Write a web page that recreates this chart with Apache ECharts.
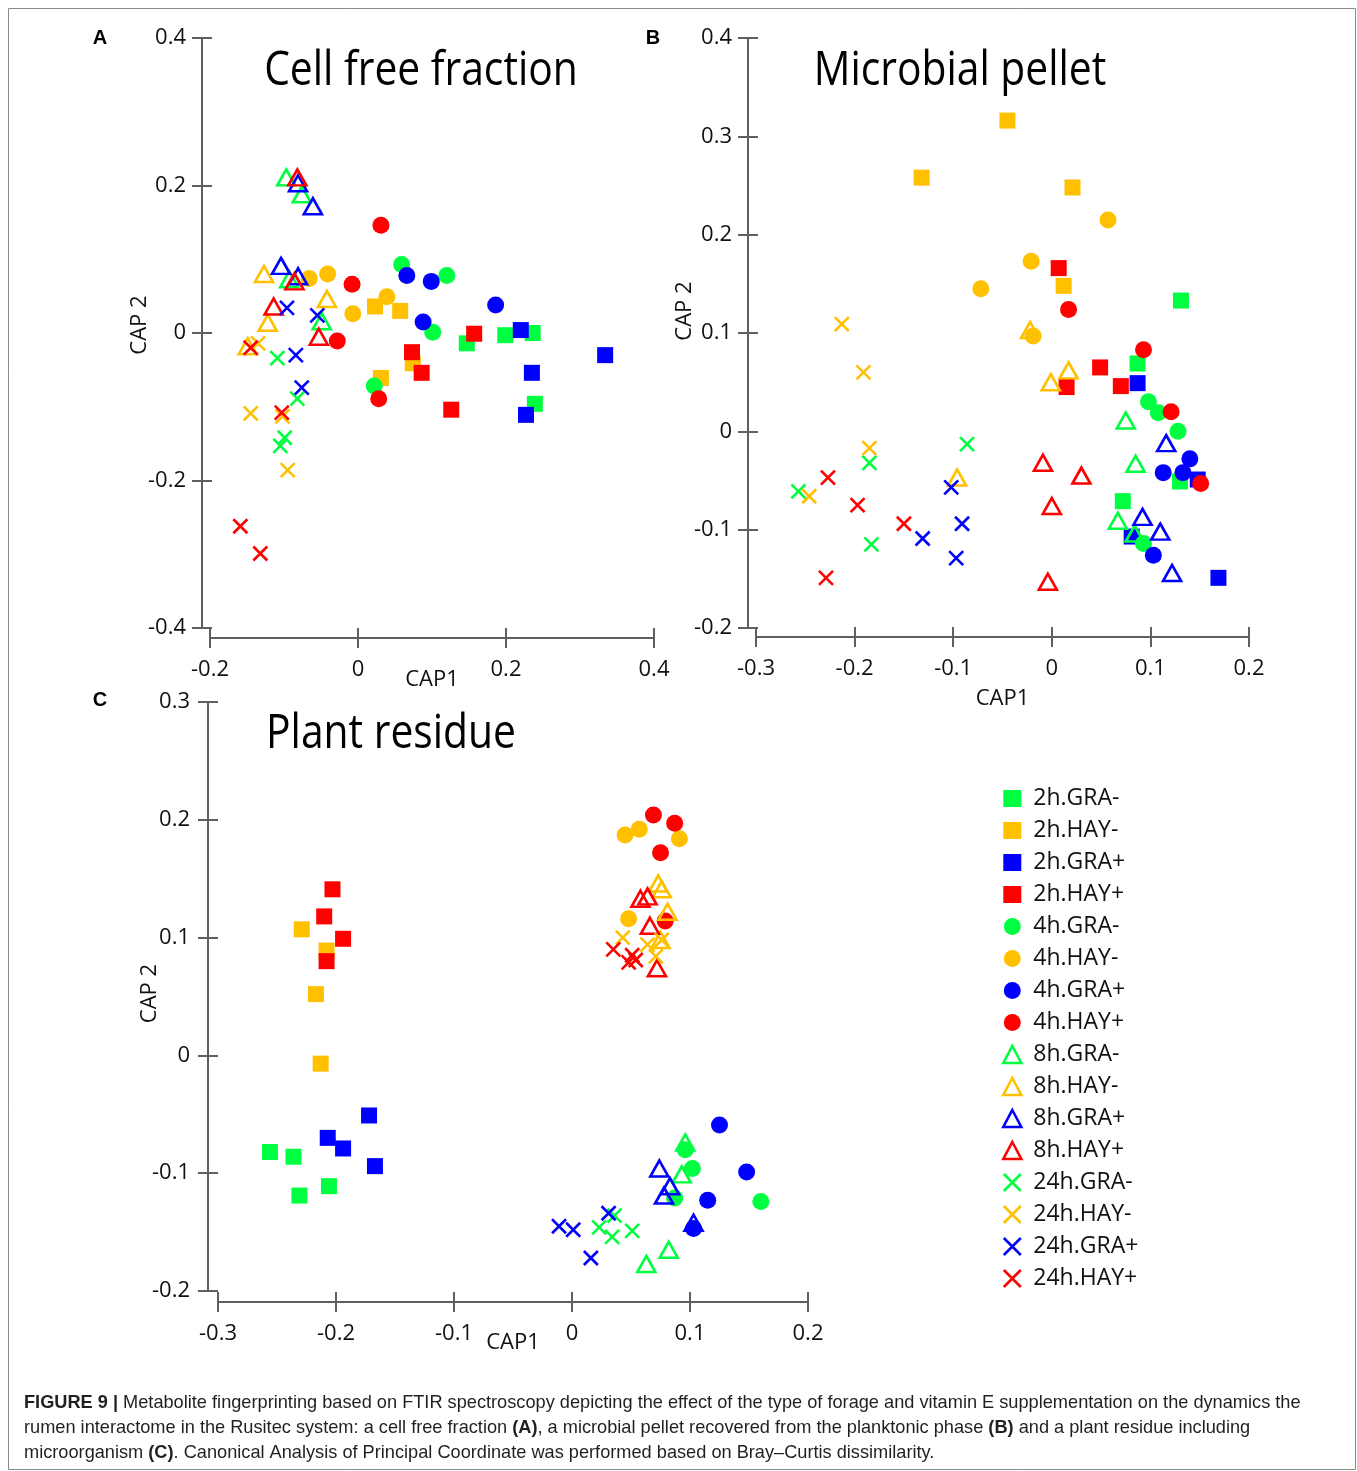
<!DOCTYPE html>
<html><head><meta charset="utf-8">
<script src="https://cdn.jsdelivr.net/npm/echarts@6/dist/echarts.min.js"></script>
<style>html,body{margin:0;padding:0;background:#fff}#c{width:1357px;height:1471px}</style>
</head><body><div id="c"></div>
<script>
// ---------------- data ----------------
const groups = ['2h.GRA-','2h.HAY-','2h.GRA+','2h.HAY+','4h.GRA-','4h.HAY-','4h.GRA+','4h.HAY+',
                '8h.GRA-','8h.HAY-','8h.GRA+','8h.HAY+','24h.GRA-','24h.HAY-','24h.GRA+','24h.HAY+'];

const cellFreeXTicks = [-0.2, 0, 0.2, 0.4];
const cellFreeYTicks = [-0.4, -0.2, 0, 0.2, 0.4];
const pelletXTicks = [-0.3, -0.2, -0.1, 0, 0.1, 0.2];
const pelletYTicks = [-0.2, -0.1, 0, 0.1, 0.2, 0.3, 0.4];
const residueXTicks = [-0.3, -0.2, -0.1, 0, 0.1, 0.2];
const residueYTicks = [-0.2, -0.1, 0, 0.1, 0.2, 0.3];

// (A) Cell free fraction, one list of [CAP1, CAP2] per group, legend order
const cellFree = [
  [[0.147,-0.014],[0.199,-0.003],[0.236,0.000],[0.239,-0.096]],
  [[0.023,0.036],[0.057,0.030],[0.031,-0.061],[0.074,-0.041]],
  [[0.220,0.004],[0.334,-0.030],[0.235,-0.054],[0.227,-0.111]],
  [[0.073,-0.026],[0.086,-0.054],[0.157,-0.001],[0.126,-0.104]],
  [[0.059,0.093],[0.120,0.078],[0.101,0.001],[0.022,-0.072]],
  [[-0.066,0.074],[-0.041,0.080],[-0.007,0.026],[0.039,0.049]],
  [[0.066,0.078],[0.099,0.070],[0.088,0.015],[0.186,0.038]],
  [[0.031,0.146],[-0.008,0.066],[-0.028,-0.011],[0.028,-0.089]],
  [[-0.097,0.211],[-0.076,0.188],[-0.093,0.073],[-0.049,0.016]],
  [[-0.127,0.080],[-0.042,0.046],[-0.122,0.014],[-0.149,-0.018]],
  [[-0.081,0.203],[-0.061,0.172],[-0.104,0.091],[-0.081,0.077]],
  [[-0.082,0.211],[-0.086,0.070],[-0.114,0.036],[-0.053,-0.005]],
  [[-0.109,-0.034],[-0.082,-0.089],[-0.099,-0.142],[-0.105,-0.153]],
  [[-0.135,-0.014],[-0.145,-0.109],[-0.102,-0.113],[-0.095,-0.186]],
  [[-0.096,0.034],[-0.055,0.024],[-0.084,-0.030],[-0.076,-0.074]],
  [[-0.145,-0.020],[-0.103,-0.108],[-0.159,-0.262],[-0.132,-0.299]]
];

// (B) Microbial pellet
const microbialPellet = [
  [[0.131,0.133],[0.087,0.069],[0.072,-0.071],[0.130,-0.051]],
  [[-0.045,0.316],[-0.132,0.258],[0.021,0.248],[0.012,0.148]],
  [[0.087,0.049],[0.081,-0.107],[0.148,-0.049],[0.169,-0.149]],
  [[0.007,0.166],[0.049,0.065],[0.070,0.046],[0.015,0.045]],
  [[0.098,0.030],[0.108,0.019],[0.128,0.000],[0.093,-0.114]],
  [[-0.072,0.145],[-0.021,0.173],[0.057,0.215],[-0.019,0.097]],
  [[0.140,-0.028],[0.113,-0.042],[0.133,-0.042],[0.103,-0.126]],
  [[0.017,0.124],[0.093,0.083],[0.121,0.020],[0.151,-0.053]],
  [[0.075,0.011],[0.085,-0.033],[0.067,-0.091],[0.084,-0.104]],
  [[-0.022,0.103],[-0.001,0.050],[0.017,0.062],[-0.096,-0.047]],
  [[0.116,-0.012],[0.092,-0.087],[0.110,-0.102],[0.122,-0.144]],
  [[-0.009,-0.032],[0.030,-0.045],[0.000,-0.076],[-0.004,-0.153]],
  [[-0.086,-0.013],[-0.185,-0.032],[-0.257,-0.061],[-0.183,-0.115]],
  [[-0.213,0.109],[-0.191,0.060],[-0.185,-0.017],[-0.246,-0.066]],
  [[-0.102,-0.057],[-0.091,-0.094],[-0.131,-0.109],[-0.097,-0.129]],
  [[-0.227,-0.047],[-0.197,-0.075],[-0.150,-0.094],[-0.229,-0.149]]
];

// (C) Plant residue
const plantResidue = [
  [[-0.256,-0.082],[-0.236,-0.086],[-0.231,-0.119],[-0.206,-0.111]],
  [[-0.229,0.107],[-0.208,0.089],[-0.217,0.052],[-0.213,-0.007]],
  [[-0.172,-0.051],[-0.207,-0.070],[-0.194,-0.079],[-0.167,-0.094]],
  [[-0.203,0.141],[-0.210,0.118],[-0.194,0.099],[-0.208,0.080]],
  [[0.096,-0.080],[0.102,-0.096],[0.087,-0.121],[0.160,-0.124]],
  [[0.045,0.187],[0.057,0.192],[0.091,0.184],[0.048,0.116]],
  [[0.125,-0.059],[0.148,-0.099],[0.115,-0.123],[0.103,-0.147]],
  [[0.069,0.204],[0.087,0.197],[0.075,0.172],[0.079,0.114]],
  [[0.096,-0.074],[0.093,-0.101],[0.082,-0.165],[0.063,-0.177]],
  [[0.073,0.146],[0.076,0.141],[0.081,0.122],[0.075,0.098]],
  [[0.074,-0.096],[0.083,-0.111],[0.078,-0.119],[0.103,-0.142]],
  [[0.058,0.133],[0.064,0.135],[0.066,0.110],[0.072,0.074]],
  [[0.036,-0.136],[0.023,-0.146],[0.034,-0.154],[0.051,-0.149]],
  [[0.043,0.100],[0.064,0.094],[0.076,0.098],[0.071,0.084]],
  [[-0.011,-0.145],[0.001,-0.148],[0.031,-0.134],[0.016,-0.172]],
  [[0.035,0.090],[0.051,0.085],[0.054,0.081],[0.048,0.079]]
];

// ---------------- styles ----------------
const palette = ['#00FF40', '#FFC000', '#0000FF', '#FF0000'];
const shapes = ['square', 'circle', 'triangle', 'cross'];
const CROSS = 'path://M0,0L10,10M10,0L0,10';
const FONT = 'Open Sans';
const AXIS_COLOR = '#5f5f5f';

function styleFor(i) {
  const col = palette[i % 4];
  const shape = shapes[Math.floor(i / 4)];
  if (shape === 'square') return {symbol: 'rect', symbolSize: 16, itemStyle: {color: col, opacity: 1}};
  if (shape === 'circle') return {symbol: 'circle', symbolSize: 17, itemStyle: {color: col, opacity: 1}};
  if (shape === 'triangle') return {symbol: 'triangle', symbolSize: [18, 16],
      itemStyle: {color: 'rgba(255,255,255,0)', borderColor: col, borderWidth: 2.6, opacity: 1}};
  return {symbol: CROSS, symbolSize: 14, itemStyle: {color: col, borderColor: col, borderWidth: 2.6, opacity: 1}};
}

const fmt = v => String(+(+v).toFixed(1));

function axisPair(kind, grid, ticks, offset, labelMargin, name, nameGap, namePad) {
  const step = +(ticks[1] - ticks[0]).toFixed(3);
  const common = {type: 'value', gridIndex: grid, min: ticks[0], max: ticks[ticks.length - 1],
    interval: step, offset: offset, splitLine: {show: false}, position: kind === 'x' ? 'bottom' : 'left'};
  const main = Object.assign({}, common, {
    axisLine: {show: true, onZero: false, lineStyle: {color: AXIS_COLOR, width: 2}},
    axisTick: {show: true, inside: false, length: 10, lineStyle: {color: AXIS_COLOR, width: 2}},
    axisLabel: {show: true, margin: labelMargin, formatter: fmt, color: '#111',
      fontFamily: FONT, fontSize: 22},
    name: name, nameLocation: 'middle', nameGap: nameGap, nameMoveOverlap: false,
    nameTextStyle: {fontFamily: FONT, fontSize: 22, color: '#111', padding: namePad || 0}
  });
  const inner = Object.assign({}, common, {
    axisLine: {show: false, onZero: false},
    axisTick: {show: true, inside: true, length: 10, lineStyle: {color: AXIS_COLOR, width: 2}},
    axisLabel: {show: false}
  });
  return [main, inner];
}

const xAxes = [].concat(
  axisPair('x', 0, cellFreeXTicks, 10, 21, 'CAP1', 31),
  axisPair('x', 1, pelletXTicks, 9, 21, 'CAP1', 51),
  axisPair('x', 2, residueXTicks, 11, 21, 'CAP1', 30)
);
const yAxes = [].concat(
  axisPair('y', 0, cellFreeYTicks, 8, 16, 'CAP 2', 51, [0, 0, 0, 16]),
  axisPair('y', 1, pelletYTicks, 8, 16, 'CAP 2', 52, [0, 0, 0, 44]),
  axisPair('y', 2, residueYTicks, 10, 18, 'CAP 2', 47, [0, 0, 0, 6])
);

const series = [];
[cellFree, microbialPellet, plantResidue].forEach((panel, p) => {
  panel.forEach((pts, i) => {
    series.push(Object.assign({
      type: 'scatter', name: groups[i], data: pts,
      xAxisIndex: p * 2, yAxisIndex: p * 2,
      emphasis: {disabled: true}, silent: true, animation: false
    }, styleFor(i)));
  });
});

const legendData = groups.map((g, i) => {
  const s = styleFor(i);
  return {name: g, itemStyle: Object.assign({}, s.itemStyle, {borderWidth: s.itemStyle.borderWidth || 0})};
});

function txt(x, y, text, size, opts) {
  return Object.assign({type: 'text', x: x, y: y, silent: true, style: Object.assign({
    text: text, fontSize: size, fontFamily: FONT, fill: '#111',
    align: 'center', verticalAlign: 'middle', textAlign: 'center', textVerticalAlign: 'middle'
  }, (opts && opts.style) || {})}, (opts && opts.el) || {});
}

const CAP = 'Liberation Sans';
const CAPSIZE = 18.2;
const capStyle = {fontFamily: CAP, fontSize: CAPSIZE, fill: '#231f20', align: 'left', textAlign: 'left',
  rich: {b: {fontFamily: CAP, fontSize: CAPSIZE, fontWeight: 'bold', fill: '#231f20'}}};

const graphic = [
  {type: 'rect', silent: true, shape: {x: 8.5, y: 8.5, width: 1347, height: 1461},
   style: {fill: 'none', stroke: '#8a8a8a', lineWidth: 1}},
  txt(421, 71, 'Cell free fraction', 48, {el: {scaleX: 0.85}, style: {fill: '#000'}}),
  txt(960, 71, 'Microbial pellet', 48, {el: {scaleX: 0.85}, style: {fill: '#000'}}),
  txt(391, 734, 'Plant residue', 48, {el: {scaleX: 0.85}, style: {fill: '#000'}}),
  txt(100, 38, 'A', 20, {style: {fontFamily: 'Liberation Sans', fontWeight: 'bold', fill: '#000'}}),
  txt(653, 38, 'B', 20, {style: {fontFamily: 'Liberation Sans', fontWeight: 'bold', fill: '#000'}}),
  txt(100, 700, 'C', 20, {style: {fontFamily: 'Liberation Sans', fontWeight: 'bold', fill: '#000'}}),
  txt(24, 1403, '{b|FIGURE 9 |} Metabolite fingerprinting based on FTIR spectroscopy depicting the effect of the type of forage and vitamin E supplementation on the dynamics the', CAPSIZE, {style: capStyle}),
  txt(24, 1428, 'rumen interactome in the Rusitec system: a cell free fraction {b|(A)}, a microbial pellet recovered from the planktonic phase {b|(B)} and a plant residue including', CAPSIZE, {style: capStyle}),
  txt(24, 1453, 'microorganism {b|(C)}. Canonical Analysis of Principal Coordinate was performed based on Bray\u2013Curtis dissimilarity.', CAPSIZE, {style: capStyle})
];

const option = {
  backgroundColor: '#fff',
  animation: false,
  grid: [
    {left: 210, top: 38, width: 444, height: 590},
    {left: 756, top: 38, width: 493, height: 590},
    {left: 218, top: 702, width: 590, height: 589}
  ],
  xAxis: xAxes,
  yAxis: yAxes,
  legend: {
    data: legendData, orient: 'vertical', left: 997, top: 782,
    itemWidth: 18, itemHeight: 17, itemGap: 9, selectedMode: false,
    textStyle: {fontFamily: FONT, fontSize: 23, color: '#111', padding: [0, 0, 0, 7]}
  },
  graphic: graphic,
  series: series
};

const chart = echarts.init(document.getElementById('c'), null, {renderer: 'canvas'});
chart.setOption(option);
</script></body></html>
